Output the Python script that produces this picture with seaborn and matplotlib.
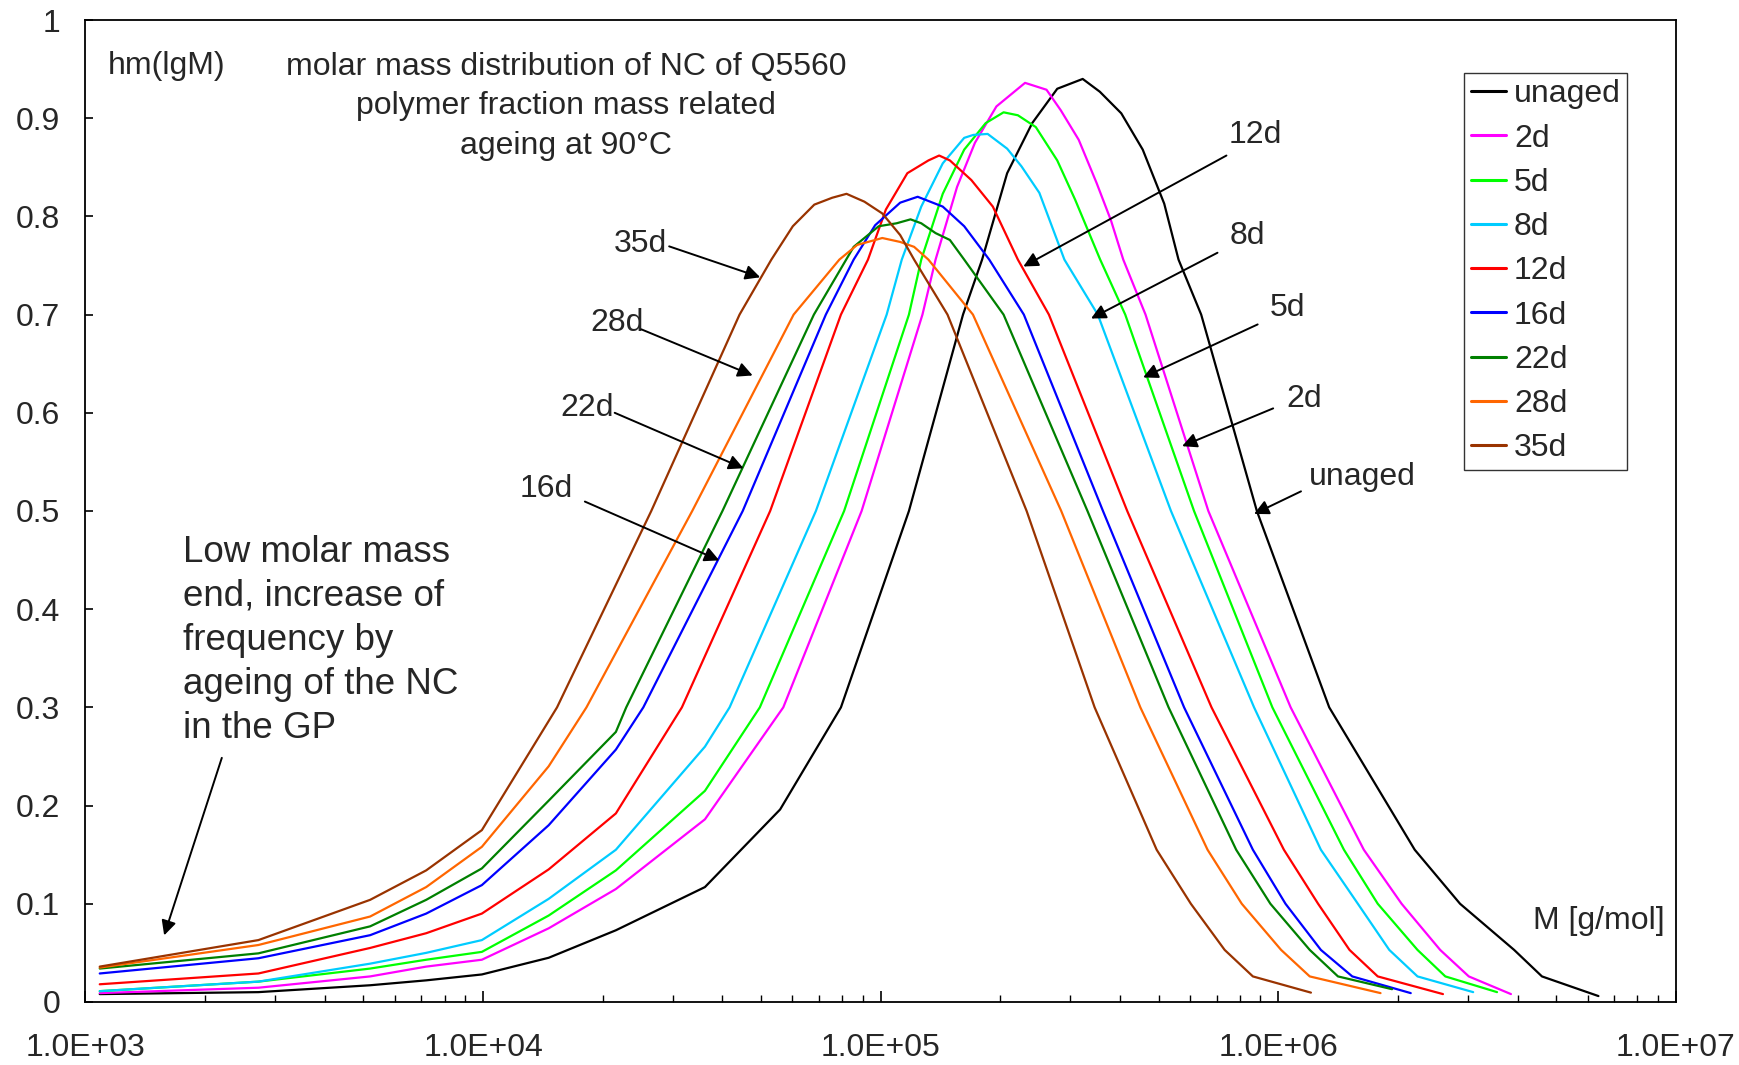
import numpy as np
import pandas as pd
import matplotlib
matplotlib.use("Agg")
import matplotlib.pyplot as plt
import matplotlib.ticker as mticker
import seaborn as sns

# series: lg(M) and hm(lgM)
labels = ["unaged", "2d", "5d", "8d", "12d", "16d", "22d", "28d", "35d"]
colors = ["#000000", "#FF00FF", "#00FF00", "#00CCFF", "#FF0000",
          "#0000FF", "#008000", "#FF6600", "#993300"]

lgm_unaged = [3.036, 3.435, 3.716, 3.857, 3.997, 4.165, 4.334, 4.558, 4.747, 4.90, 5.071, 5.207, 5.255, 5.318,
              5.381, 5.444, 5.508, 5.551, 5.605, 5.659, 5.713, 5.749, 5.806, 5.946, 6.128, 6.343, 6.457, 6.593,
              6.663, 6.805]
hm_unaged = [0.008, 0.010, 0.017, 0.022, 0.028, 0.045, 0.073, 0.117, 0.196, 0.30, 0.50, 0.70, 0.756, 0.844,
             0.895, 0.930, 0.940, 0.927, 0.905, 0.868, 0.813, 0.756, 0.70, 0.50, 0.30, 0.155, 0.10, 0.053,
             0.026, 0.006]

lgm_2d = [3.036, 3.435, 3.716, 3.857, 3.997, 4.165, 4.334, 4.558, 4.755, 4.952, 5.105, 5.138, 5.192, 5.237,
          5.291, 5.363, 5.417, 5.453, 5.498, 5.543, 5.579, 5.610, 5.666, 5.824, 6.031, 6.215, 6.31, 6.407,
          6.479, 6.585]
hm_2d = [0.009, 0.0145, 0.026, 0.036, 0.043, 0.075, 0.115, 0.186, 0.30, 0.50, 0.70, 0.756, 0.830, 0.875,
         0.912, 0.936, 0.929, 0.908, 0.878, 0.834, 0.796, 0.756, 0.70, 0.50, 0.30, 0.155, 0.10, 0.053,
         0.026, 0.008]

lgm_5d = [3.036, 3.435, 3.716, 3.857, 3.997, 4.165, 4.334, 4.558, 4.696, 4.908, 5.071, 5.102, 5.156, 5.210,
          5.264, 5.309, 5.345, 5.390, 5.444, 5.489, 5.552, 5.615, 5.788, 5.985, 6.165, 6.25, 6.35, 6.42, 6.55]
hm_5d = [0.011, 0.0207, 0.034, 0.043, 0.051, 0.088, 0.134, 0.215, 0.30, 0.50, 0.70, 0.756, 0.823, 0.868,
         0.895, 0.906, 0.903, 0.891, 0.857, 0.817, 0.756, 0.70, 0.50, 0.30, 0.155, 0.10, 0.053, 0.026, 0.010]

lgm_8d = [3.036, 3.435, 3.716, 3.857, 3.997, 4.165, 4.334, 4.558, 4.62, 4.837, 5.015, 5.053, 5.102, 5.156,
          5.210, 5.233, 5.269, 5.318, 5.354, 5.399, 5.462, 5.546, 5.73, 5.939, 6.107, 6.20, 6.279, 6.35, 6.49]
hm_8d = [0.011, 0.0207, 0.039, 0.050, 0.063, 0.105, 0.155, 0.26, 0.30, 0.50, 0.70, 0.756, 0.810, 0.854,
         0.880, 0.883, 0.884, 0.869, 0.851, 0.824, 0.756, 0.70, 0.50, 0.30, 0.155, 0.10, 0.053, 0.026, 0.010]

lgm_12d = [3.036, 3.435, 3.716, 3.857, 3.997, 4.165, 4.334, 4.50, 4.722, 4.90, 4.968, 5.013, 5.067, 5.120,
           5.147, 5.174, 5.228, 5.282, 5.345, 5.423, 5.62, 5.832, 6.014, 6.10, 6.179, 6.25, 6.414]
hm_12d = [0.018, 0.029, 0.055, 0.070, 0.090, 0.135, 0.192, 0.30, 0.50, 0.70, 0.756, 0.807, 0.844, 0.857,
          0.862, 0.857, 0.837, 0.810, 0.756, 0.70, 0.50, 0.30, 0.155, 0.10, 0.053, 0.026, 0.008]

lgm_16d = [3.036, 3.435, 3.716, 3.857, 3.997, 4.165, 4.334, 4.403, 4.653, 4.862, 4.932, 4.986, 5.049, 5.093,
           5.156, 5.210, 5.273, 5.36, 5.559, 5.763, 5.936, 6.018, 6.107, 6.186, 6.333]
hm_16d = [0.029, 0.0445, 0.068, 0.090, 0.119, 0.180, 0.257, 0.30, 0.50, 0.70, 0.756, 0.791, 0.814, 0.820,
          0.810, 0.790, 0.756, 0.70, 0.50, 0.30, 0.155, 0.10, 0.053, 0.026, 0.009]

lgm_22d = [3.036, 3.435, 3.716, 3.857, 3.997, 4.165, 4.334, 4.36, 4.602, 4.832, 4.932, 4.995, 5.040, 5.075,
           5.102, 5.138, 5.174, 5.210, 5.309, 5.52, 5.724, 5.894, 5.98, 6.079, 6.15, 6.286]
hm_22d = [0.034, 0.0495, 0.077, 0.104, 0.136, 0.205, 0.275, 0.30, 0.50, 0.70, 0.769, 0.790, 0.793, 0.797,
          0.793, 0.783, 0.776, 0.756, 0.70, 0.50, 0.30, 0.155, 0.10, 0.053, 0.026, 0.013]

lgm_28d = [3.036, 3.435, 3.716, 3.857, 3.997, 4.165, 4.26, 4.526, 4.781, 4.896, 4.941, 5.004, 5.049, 5.084,
           5.120, 5.232, 5.454, 5.653, 5.822, 5.908, 6.007, 6.079, 6.257]
hm_28d = [0.035, 0.058, 0.087, 0.117, 0.158, 0.240, 0.30, 0.50, 0.70, 0.756, 0.771, 0.778, 0.774, 0.769,
          0.756, 0.70, 0.50, 0.30, 0.155, 0.10, 0.053, 0.026, 0.009]

lgm_35d = [3.036, 3.435, 3.716, 3.857, 3.997, 4.186, 4.423, 4.645, 4.725, 4.779, 4.833, 4.878, 4.914, 4.959,
           5.004, 5.049, 5.084, 5.168, 5.367, 5.538, 5.694, 5.78, 5.865, 5.936, 6.082]
hm_35d = [0.036, 0.063, 0.104, 0.134, 0.175, 0.30, 0.50, 0.70, 0.756, 0.790, 0.812, 0.819, 0.823, 0.815,
          0.803, 0.781, 0.756, 0.70, 0.50, 0.30, 0.155, 0.10, 0.053, 0.026, 0.0095]

x_ticks = [1e3, 1e4, 1e5, 1e6, 1e7]
y_ticks = [0, 0.1, 0.2, 0.3, 0.4, 0.5, 0.6, 0.7, 0.8, 0.9, 1.0]

series = {
    "unaged": (lgm_unaged, hm_unaged), "2d": (lgm_2d, hm_2d), "5d": (lgm_5d, hm_5d),
    "8d": (lgm_8d, hm_8d), "12d": (lgm_12d, hm_12d), "16d": (lgm_16d, hm_16d),
    "22d": (lgm_22d, hm_22d), "28d": (lgm_28d, hm_28d), "35d": (lgm_35d, hm_35d),
}
frames = []
for name, (lg, hm) in series.items():
    frames.append(pd.DataFrame({"M": 10 ** np.array(lg), "hm": hm, "series": name}))
df = pd.concat(frames, ignore_index=True)
palette = dict(zip(labels, colors))

sns.set_theme(style="white")
plt.rcParams["font.family"] = ["Liberation Sans", "DejaVu Sans"]

fig = plt.figure(figsize=(17.4, 10.65), dpi=100)
ax = fig.add_axes([0.0491, 0.0592, 0.9141, 0.9220])

sns.lineplot(data=df, x="M", y="hm", hue="series", hue_order=labels, palette=palette,
             estimator=None, sort=False, linewidth=1.6, legend=False, ax=ax)

ax.set_xscale("log")
ax.set_xlim(1e3, 1e7)
ax.set_ylim(0, 1)
ax.set_xlabel("")
ax.set_ylabel("")
ax.xaxis.set_major_locator(mticker.FixedLocator(x_ticks))
ax.xaxis.set_minor_locator(mticker.LogLocator(base=10, subs=np.arange(2, 10)))
ax.xaxis.set_major_formatter(mticker.FuncFormatter(lambda v, _: f"{v:.1E}"))
ax.xaxis.set_minor_formatter(mticker.NullFormatter())
ax.yaxis.set_major_locator(mticker.FixedLocator(y_ticks))
ax.yaxis.set_major_formatter(mticker.FuncFormatter(lambda v, _: f"{v:g}"))
ax.tick_params(axis="x", which="major", direction="in", length=8, width=1.2, pad=22,
               labelsize=23, bottom=True, top=False, color="black")
ax.tick_params(axis="x", which="minor", direction="in", length=5, width=1.0, bottom=True, top=False,
               color="black")
ax.tick_params(axis="y", which="major", direction="in", length=6, width=1.2, pad=18,
               labelsize=23, left=True, right=False, color="black")
for sp in ax.spines.values():
    sp.set_color("black")
    sp.set_linewidth(1.3)

ax.text(10 ** 3.056, 0.953, "hm(lgM)", fontsize=23, ha="left", va="center")
ax.text(10 ** 4.209, 0.912, "molar mass distribution of NC of Q5560\npolymer fraction mass related\nageing at 90°C",
        fontsize=23, ha="center", va="center", multialignment="center", linespacing=1.4)
ax.text(10 ** 3.2456, 0.368, "Low molar mass\nend, increase of\nfrequency by\nageing of the NC\nin the GP",
        fontsize=26.5, ha="left", va="center", linespacing=1.34)
ax.text(10 ** 6.972, 0.0825, "M [g/mol]", fontsize=23, ha="right", va="center")

arrows = [
    ("12d", (5.942, 0.8825), (5.8695, 0.862), (5.3587, 0.749)),
    ("8d", (5.9225, 0.780), (5.847, 0.763), (5.529, 0.696)),
    ("5d", (6.023, 0.707), (5.948, 0.690), (5.660, 0.636)),
    ("2d", (6.065, 0.6136), (5.987, 0.6045), (5.758, 0.566)),
    ("unaged", (6.210, 0.5345), (6.057, 0.520), (5.939, 0.497)),
    ("35d", (4.396, 0.772), (4.468, 0.7695), (4.697, 0.738)),
    ("28d", (4.337, 0.6915), (4.398, 0.685), (4.678, 0.638)),
    ("22d", (4.262, 0.6045), (4.331, 0.600), (4.655, 0.5435)),
    ("16d", (4.158, 0.522), (4.256, 0.5096), (4.594, 0.4497)),
    ("", None, (3.343, 0.2486), (3.198, 0.0678)),
]
for txt, tpos, start, tip in arrows:
    if txt:
        ax.text(10 ** tpos[0], tpos[1], txt, fontsize=23, ha="center", va="center")
    ax.annotate("", xy=(10 ** tip[0], tip[1]), xytext=(10 ** start[0], start[1]),
                arrowprops=dict(arrowstyle="-|>", color="black", lw=1.4, mutation_scale=22,
                                shrinkA=0, shrinkB=0))

handles = [plt.Line2D([], [], color=c, lw=2.2) for c in colors]
leg = ax.legend(handles, labels, loc="upper left", bbox_to_anchor=(0.867, 0.946), borderaxespad=0,
                fontsize=23, frameon=True, fancybox=False, handlelength=1.1, handletextpad=0.25,
                labelspacing=0.445, borderpad=0.2)
leg.get_frame().set_edgecolor("black")
leg.get_frame().set_linewidth(1.0)

fig.savefig("out.png", dpi=100)
